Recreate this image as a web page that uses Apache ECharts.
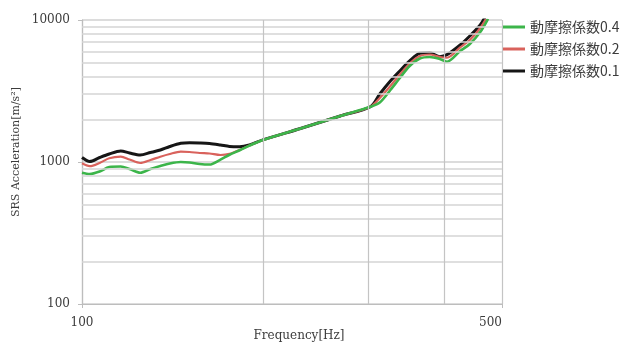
<!DOCTYPE html>
<html>
<head>
<meta charset="utf-8">
<script src="https://cdn.jsdelivr.net/npm/echarts@6/dist/echarts.min.js"></script>
<style>
html, body { margin: 0; padding: 0; background: #ffffff; }
#chart { width: 640px; height: 342px; }
</style>
</head>
<body>
<div id="chart"></div>
<script>
// Shock response spectrum for three dynamic friction coefficients
const frequencies = [100, 103, 107, 111, 116, 120, 125, 130, 135, 140, 146, 151, 157, 163, 170, 176, 183, 190, 200,
  231, 269, 302, 313, 326, 338, 351, 365, 379, 394, 405, 426, 442, 460, 474];

const srsMu04 = [841, 823, 857, 922, 929, 893, 841, 893, 937, 976, 1000, 992, 968, 960, 1040, 1125, 1210, 1305, 1430,
  1722, 2110, 2452, 2624, 3214, 3904, 4743, 5353, 5485, 5312, 5085, 6048, 6776, 8233, 10200];

const srsMu02 = [979, 934, 984, 1062, 1090, 1041, 984, 1033, 1090, 1139, 1182, 1176, 1157, 1148, 1120, 1140, 1215, 1305, 1430,
  1722, 2110, 2452, 2825, 3430, 4132, 4940, 5577, 5715, 5486, 5422, 6406, 7231, 8785, 10800];

const srsMu01 = [1075, 1008, 1076, 1139, 1196, 1157, 1120, 1166, 1215, 1286, 1354, 1368, 1362, 1350, 1317, 1286, 1281, 1320, 1430,
  1722, 2110, 2452, 3013, 3719, 4375, 5144, 5828, 5885, 5520, 5700, 6668, 7716, 9222, 11500];

const seriesNames = ['動摩擦係数0.4', '動摩擦係数0.2', '動摩擦係数0.1'];
const seriesColors = ['#3cb54a', '#d9625c', '#161616'];

// Intermediate grid values on the log axes
const yGridValues = [200, 300, 400, 500, 600, 700, 800, 900, 2000, 3000, 4000, 5000, 6000, 7000, 8000, 9000];
const xGridValues = [200, 300, 400];

const pairs = (ys) => frequencies.map((f, i) => [f, ys[i]]);

const chart = echarts.init(document.getElementById('chart'), null, { renderer: 'canvas' });

const serifText = { fontFamily: 'DejaVu Serif', fontSize: 12, color: '#3c3c3c' };
const plainNumber = (v) => String(Math.round(v));

const gridLineSeries = {
  name: 'grid',
  type: 'line',
  data: [],
  z: 1,
  silent: true,
  markLine: {
    silent: true,
    symbol: 'none',
    animation: false,
    label: { show: false },
    lineStyle: { color: '#d4d4d4', width: 1.6, type: 'solid' },
    data: yGridValues.map(v => ({ yAxis: v }))
      .concat(xGridValues.map(v => ({ xAxis: v, lineStyle: { color: '#c4c4c4', width: 1.2, type: 'solid' } })))
  }
};

const dataSeries = [
  { name: seriesNames[2], values: srsMu01, color: seriesColors[2], width: 3 },
  { name: seriesNames[1], values: srsMu02, color: seriesColors[1], width: 2.2 },
  { name: seriesNames[0], values: srsMu04, color: seriesColors[0], width: 2.6 }
].map(s => ({
  name: s.name,
  type: 'line',
  data: pairs(s.values),
  smooth: 0.3,
  symbol: 'none',
  clip: true,
  z: 3,
  lineStyle: { color: s.color, width: s.width },
  itemStyle: { color: s.color }
}));

chart.setOption({
  animation: false,
  backgroundColor: '#ffffff',
  grid: { left: 82, right: 138, top: 20, bottom: 38, outerBoundsMode: 'none' },
  legend: {
    data: seriesNames,
    orient: 'vertical',
    left: 503,
    top: 20,
    padding: 0,
    icon: 'rect',
    itemWidth: 22,
    itemHeight: 3,
    itemGap: 8,
    textStyle: { fontFamily: 'Noto Sans CJK JP', fontSize: 14, color: '#3c3c3c' }
  },
  xAxis: {
    type: 'log',
    logBase: 10,
    min: 100,
    max: 500,
    name: 'Frequency[Hz]',
    nameLocation: 'middle',
    nameGap: 26,
    nameMoveOverlap: false,
    nameTextStyle: Object.assign({ padding: [0, 0, 0, 14] }, serifText),
    axisLine: { lineStyle: { color: '#bdbdbd', width: 1.2 } },
    axisTick: { show: true, length: 4, lineStyle: { color: '#bdbdbd' } },
    axisLabel: Object.assign({ margin: 13, showMinLabel: true, showMaxLabel: true, alignMaxLabel: 'right', formatter: plainNumber }, serifText),
    splitLine: { show: true, lineStyle: { color: '#c4c4c4', width: 1.2 } }
  },
  yAxis: {
    type: 'log',
    logBase: 10,
    min: 100,
    max: 10000,
    name: 'SRS Acceleration[m/s²]',
    nameLocation: 'middle',
    nameGap: 60,
    nameMoveOverlap: false,
    nameTextStyle: Object.assign({ padding: [0, 0, 0, 20] }, serifText, { fontSize: 11 }),
    axisLine: { show: true, lineStyle: { color: '#bdbdbd', width: 1.2 } },
    axisTick: { show: true, length: 4, lineStyle: { color: '#bdbdbd' } },
    axisLabel: Object.assign({ margin: 12, formatter: plainNumber }, serifText),
    splitLine: { show: true, lineStyle: { color: '#d0d0d0', width: 1.6 } }
  },
  series: [gridLineSeries].concat(dataSeries)
});
</script>
</body>
</html>
